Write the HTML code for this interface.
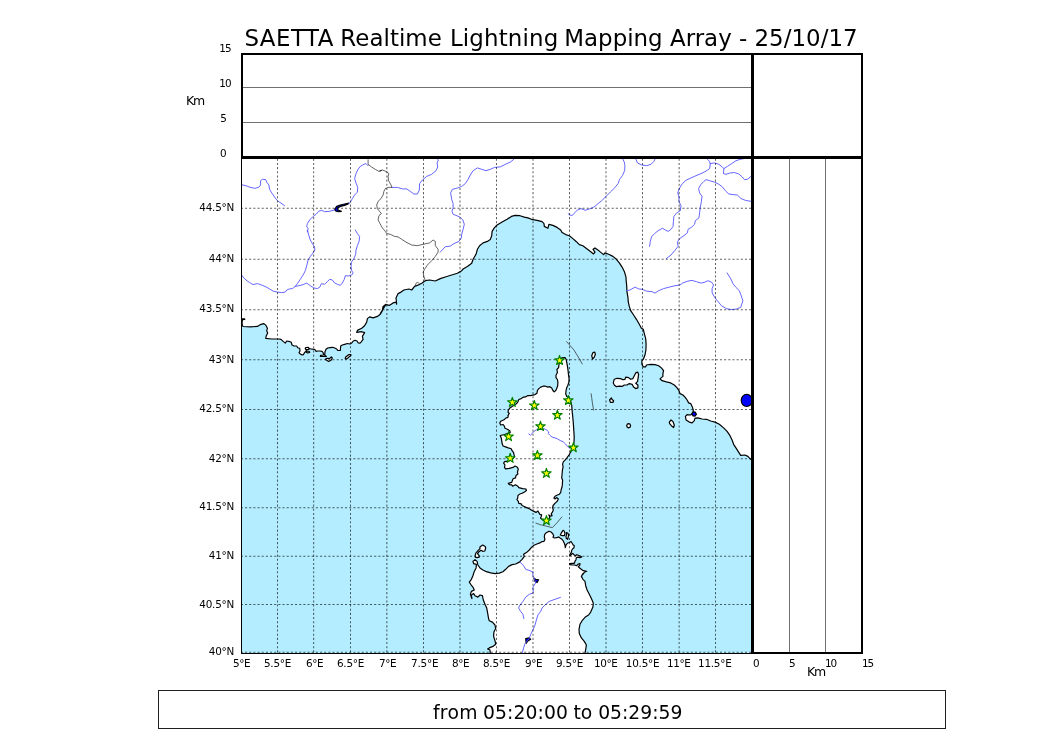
<!DOCTYPE html>
<html lang="en">
<head>
<meta charset="utf-8">
<title>SAETTA Realtime Lightning Mapping Array</title>
<style>
html,body{margin:0;padding:0;background:#fff;}
body{width:1050px;height:750px;overflow:hidden;position:relative;font-family:"DejaVu Sans","Liberation Sans",sans-serif;}
svg{position:absolute;left:0;top:0;display:block;}
svg text{font-family:"DejaVu Sans","Liberation Sans",sans-serif;fill:#000;}
.tk{font-size:10.42px;letter-spacing:-0.4px;}
.ttl{font-size:22.92px;}
.tm{font-size:18.75px;}
.riv{fill:none;stroke:#5555ff;stroke-width:0.9;stroke-linejoin:round;stroke-linecap:round;}
.bd{fill:none;stroke:#222;stroke-width:0.7;stroke-linejoin:round;}
.cst{fill:#fff;stroke:#000;stroke-width:1.2;stroke-linejoin:round;}
.lake{fill:#0000ff;stroke:#000;stroke-width:1.15;stroke-linejoin:round;}
.gr{stroke:rgba(0,0,0,0.62);stroke-width:1.04;stroke-dasharray:2.083 2.083;fill:none;}
.st{fill:#ffff00;stroke:#008000;stroke-width:1.15;stroke-linejoin:round;}
</style>
</head>
<body>
<svg width="1050" height="750" viewBox="0 0 1050 750">
<rect x="0" y="0" width="1050" height="750" fill="#fff"/>
<text class="ttl" y="46" xml:space="preserve"><tspan x="244.4" style="letter-spacing:0.5px">SAETTA </tspan><tspan x="340.3" style="letter-spacing:0.05px">Realtime </tspan><tspan x="449.9" style="letter-spacing:0.15px">Lightning </tspan><tspan x="564.3">Mapping </tspan><tspan x="670.0">Array </tspan><tspan x="739.1">- </tspan><tspan x="754.4" style="letter-spacing:0.05px">25/10/17</tspan></text>
<defs><clipPath id="mc"><rect x="241.0" y="156.5" width="511.0" height="497.0"/></clipPath></defs>
<g clip-path="url(#mc)">
<rect x="241.0" y="156.5" width="511.0" height="497.0" fill="#b3edff"/>
<path class="cst" d="M235,150L235,319L241.3,318.9L244.7,318.9L244.7,319.5L242.4,319.6L242.1,322.7L242.3,325.3L243,326.5L250.3,326.9L257.4,326.4L261,324.3L263.9,323.6L266,325.4L267.4,328.3L266.7,330.7L267.7,332.9L266.3,335.7L265.7,338.3L271.7,339L278.9,339L281,339.3L283.1,341.4L285.3,343.1L286.7,341L290,341.7L291.3,342.3L292,345L294,346L296.7,346L297.7,347.7L299.7,348.3L300,351L299,352.7L300.3,354L302,354.9L303.3,354.7L304.3,353L305.7,351.3L306.7,350L305.7,349L306.7,347.7L308.3,347.5L309,348.7L311.3,349L314,349.3L315.3,350L316,351.3L318,351L320,351L322,351.3L323,352.3L323.7,355L320.7,355.3L320.3,356.3L323.3,356.5L326.3,356.5L324.7,355L325,351.7L326,349.3L327.7,348L330,347.7L332.7,347.3L334.7,348L336.7,349L337.7,350.3L340.3,350.5L340.5,348.3L340.7,346L342.3,345L344.7,344.3L347.3,343.5L350,344L352,342.7L353.3,341L355,340.3L357,341L358.3,343L360,343.1L361,342.1L363.1,339.3L362.4,336.4L364.6,332.6L361.7,331.7L356.7,332.4L357.4,330.4L361.7,328.3L364.6,325.7L366.7,322.1L367.4,318.6L369.6,316.9L373.1,317.9L377.4,316.4L380.3,314.3L382.4,310.7L383.1,306.4L386,304.3L380.3,313.6L382.4,310L383.1,306.4L386,304.7L389.6,305.3L393.1,302.9L396,302.1L396.7,304.3L396,297.9L398.1,293.6L401,292.1L403.9,290L408.9,289L411.7,290L414.6,286.4L418.9,284.7L421.7,283.3L425.3,280.7L429.6,280L435.3,281L440.3,278.6L446,276.7L451.7,275L457.4,273.3L461.7,270.7L463.1,269L467.4,266.4L471.7,263.3L473.1,259.3L476,254.3L477.4,249.3L479.6,245.7L483.1,242.9L487.4,241.4L490.3,239.6L491.7,235.7L492.1,231.4L494.3,227.9L497.1,225L502.1,222.1L507.1,219.3L511.4,216.4L515,215.4L520,215.7L524.3,217.1L527.9,217.9L531.4,219.3L537.1,220.3L542.1,221.7L544,223.6L544.3,226.4L547.9,228.3L548.9,224.3L552.9,225.4L557.1,227.4L560.7,230L562.1,232.6L565.7,234.6L569.3,235.7L572.9,238.6L576.4,241.7L579.3,244.6L582.9,245.7L587.1,248.9L590.7,251.7L593.6,253.9L595,252.1L593.1,249.3L595,247.9L599.3,251.1L603.6,254.6L605,252.9L608.6,254.3L612.9,256.4L616.4,259.3L619.3,262.9L622.1,267.1L624.3,271.4L626,277.1L626.1,280L626.7,285.7L626.9,291.4L627.9,297.1L628.3,302.1L629.3,306.4L630.7,310.7L633.6,315L636.4,319.3L639.3,324.3L641.4,328.3L643.3,329.3L644.3,333.6L645.7,338.6L646.1,344.3L645.9,350L645,355L643.3,359.3L641.9,360.7L641.9,364.3L643.3,366.9L645.7,366.9L646.4,365L650.7,364.3L655,364.6L658.6,365.7L661.4,367.9L663.6,370.7L662.9,373.6L662.9,376.4L660,378.9L662.1,380.7L666.4,381.9L670.7,382.9L674.3,385L677.1,387.9L679,390.7L680,393.6L682.9,395L685,397.1L687.1,400L688.6,402.9L690.7,403.6L692.1,406.4L693.3,410L692.9,412.9L690.7,415L687.1,414.7L685.4,416.4L686.1,420L689.3,422.1L692.1,422.9L694.3,420.7L695,418.1L697.9,417.9L702.1,419L706.4,419.3L710.7,421L715,422.1L719.3,424.3L723.6,427.9L727.1,431.4L730,435.7L732.1,440L733.6,444.3L736.4,448.6L738.6,452.1L740.7,455.3L745,455L747.9,456.4L750.7,459.3L755,462.1L760,462L760,150Z"/>
<path class="cst" d="M561.7,357.8L565,357.6L566.2,359.5L566.9,363.3L567.6,367.1L568.1,371L568.5,374.8L569.1,378.6L568.8,382.4L567.9,385.2L566.6,388.1L566,391L565.7,393.8L566.6,396.2L568.3,397.6L570.7,401.4L571.7,405.2L572,409L572.3,412.9L572.6,415L572.9,418.8L573.3,422.6L573.6,427.4L573.9,432.1L574.2,436.9L574,441.7L573.6,445.5L571.2,451.2L569.3,454.5L566.9,457.9L565,460.2L563.1,462.1L562.6,464.5L563.1,466.9L562.4,470.2L562.1,474L561.7,477.9L562.6,480L562.4,483.8L562.1,486.7L561.2,489.5L560.7,492.4L559.3,494.3L556.9,495.2L555,496.2L553.9,498.1L555,499L556.9,497.6L558.3,499L557.4,501L556,502.4L554.5,503.8L553.1,505.5L552.6,507.6L553.3,510L552.6,511.9L551.2,513.8L552.1,515.7L550.2,516.2L548.8,514.8L549.8,517.1L548.3,520L546.4,521.9L543.6,520.5L540.5,518.1L541.2,516.7L541.7,514.8L539.8,514.3L539,512.9L537.9,511L536,512.4L534,511.4L531.7,510.3L529.8,509L527.9,508.1L525.5,507.1L523.6,506.2L522.1,505.5L521.2,503.8L518.8,503.3L518.3,501.4L516.9,499.5L517.7,498.1L517.9,495.7L519.3,494.3L522.1,493.3L524.5,491.9L526.4,490.5L526,489L522.6,488.6L518.8,487.6L517.9,486.2L515.5,484.8L512.6,486.2L511.7,484.8L509.3,484.6L508.3,483.3L511.7,482.4L512.6,480L513.1,478.8L515.5,477.9L516,475.5L517.9,474L517.4,472.1L518.3,469.3L517.4,467.2L515,466L513.1,467.4L509.3,468.3L505.5,468.8L504.5,467.4L505,465L503.6,463.1L504.5,461.7L508.3,461.2L511.7,459.8L514.5,456.9L514,454.5L513.6,452.6L512.1,450.7L511.2,448.8L508.3,447.9L505.5,446.9L503.1,446L502.1,443.6L501.7,440.7L501.2,437.9L500.2,435.5L504.5,434.5L510.2,432.6L509.8,430.7L507.4,429.3L505,428.3L504.5,426.4L503.1,424.5L500.7,425L499.8,423.1L500.7,421.2L504,419.8L505.5,418.3L507.9,417.4L508.3,415.5L507.9,415.7L509.3,413.3L508.1,412.4L508.3,410L509.8,408.1L511.7,406.7L514,405.2L516.4,403.8L517.9,401.9L518.8,399.5L521.2,398.6L523.6,397.1L525.5,396.9L527.9,395.5L530.2,395.7L532.6,395.2L535,394.6L536.9,393.3L537.4,390.5L538.8,388.6L540.7,387.1L543.1,386.2L545.5,386.2L547.9,387.1L549.8,386.7L551.7,388.1L552.9,390.5L554.2,391.9L555.8,390.5L556.9,388.1L557.7,385.7L557.9,382.4L557.4,379.5L556,377.6L556,375.2L557.4,372.4L556.9,369.5L558.6,367.6L559,364.3L561.7,358.1Z"/>
<path class="cst" d="M490.4,655L490,650L487.6,649L489.3,647.9L492.9,646.4L495.7,644.3L495,640.7L493.6,636.4L493.9,632.1L495.7,628.6L495,625L492.4,622.1L489.3,620.7L488.6,618.6L487.6,612.9L486.7,607.9L485,604.3L483.3,600L482.4,595.7L480,595L477.9,597.1L475,595.7L473.6,593.6L471.4,595L471.9,598.6L470.4,594.3L471.4,591.4L474.3,590L472.9,587.1L470.7,584.3L469.3,582.1L471.4,579.3L472.9,575.7L474.3,571.4L476.1,567.9L476.4,564.3L473.6,563.6L472.9,561.4L475,559.7L477.1,561.4L477.9,565L480,567.9L482.9,570L486.4,571.7L490.7,572.9L495,573.6L499.3,573.1L502.9,571.7L505.7,569.3L508.6,566.4L512.1,564.6L515.7,564L519.3,562.1L522.1,559.3L524.3,556.4L523.6,554.3L526.4,552.6L529.3,550L531.7,547.1L534,545.2L536.9,544L539.8,542.9L541.7,541.7L544,541.3L545,539.3L544.3,537L544.7,534.3L546.3,532.7L549,531.3L551,532L552.7,533.7L553.7,535.7L553,537.3L554.3,538L556.7,537.7L558.7,536.9L560,538L562,539.3L563.3,541L564.3,543.3L565,545.3L565.3,547.7L566,545L567.3,543.3L569.3,542.5L571,541.5L572,543L573,544.7L574.3,545.7L574,547.7L572.7,548.7L571.7,550.3L571.3,552.3L570,554.3L569.7,555.7L571.3,554.7L572.7,553.3L574,554.7L575.3,555.7L576.7,554.7L578.3,555.3L580,556L581.7,556.9L580,557.7L578,557.1L576.3,557.7L576,559.7L575,561.3L574.3,563.3L572,563.3L569.7,563.7L569.7,564.7L572,565L574.7,565L576.7,565.7L578.3,564L580,563.7L579.7,565.3L578.3,566.7L579.7,568L581.3,569.3L583.3,570.7L586.7,571.3L584.3,572.3L583.3,574L582.9,573.6L581.4,576.4L582.9,579.3L585,581.4L585.7,585.7L587.1,590L589.3,594.3L591.4,598.6L593.3,602.9L593.3,602.9L592.9,607.1L590.7,612.1L588.6,615L585.7,616.7L582.1,620.7L580,624.3L579,629.3L579.3,633.6L581.4,637.9L584.3,641.4L586.4,645L585.7,649.3L584.7,655Z"/>
<path class="cst" d="M613.6,381.4L614.3,379.3L617.1,378.3L620.7,378.6L622.9,379.7L625,379.3L625.7,377.1L628.6,377.6L630.7,379.3L632.9,378.6L634.3,375.7L635.7,372.9L637.6,372.1L638.6,374.3L638.1,377.9L637.6,381.4L635.7,383.3L637.9,385L637.9,387.9L635.7,388.6L633.6,387.1L632.1,384.3L629.3,383.6L627.1,385L624.3,385L622.1,386.4L619.3,386.1L616.4,386.7L614.3,385L613.3,382.9Z"/>
<path class="cst" d="M609.6,400L611.4,397.9L612.1,399.6L613.6,400.7L612.9,402.4L610.4,402.4Z"/>
<path class="cst" d="M626.7,425.7L627.3,424.1L628.6,423.6L630,424.1L630.6,425.7L630,427.3L628.6,427.9L627.3,427.3Z"/>
<path class="cst" d="M669.3,422.1L671,420L672.9,421.4L674.3,425L673.6,427.6L671.4,425.7L669.6,423.6Z"/>
<path class="cst" d="M591.7,355.7L592.9,352.6L594.7,352.1L595.4,354.3L594.3,357.1L592.6,359Z"/>
<path class="cst" d="M560.3,535L561.7,532.3L563,530.3L564.3,531.3L565,533.7L564.3,535.7L562.3,535.7Z"/>
<path class="cst" d="M566.3,532.7L567.7,533L568.7,534.7L568.3,536.7L567.7,539.3L566.3,538.3L566,536.3L566.7,534.7Z"/>
<path class="cst" d="M482.7,545L485.2,546.5L485.7,548L484.8,551L482.7,551.3L481,550.2L479,551.7L477.5,553.7L479.3,555.8L479.2,557.1L477,557.7L475.3,557.1L475.2,555.3L476,552.9L478,550.7L480,548.7L479.9,546.9Z"/>
<path class="cst" d="M325.3,359.3L327,358.3L329.3,358.7L331.3,357L332.3,358L331.3,360L328.7,361.5L326.7,360.3Z"/>
<path class="cst" d="M345.2,358.7L345.7,357L347.3,355.7L349,354.5L350.8,354.5L351,355.3L349.3,356.7L348,358L346.3,359.1Z"/>
<path class="cst" d="M305.2,348.3L306,347.5L308.3,347.4L309,348.3L308.7,349.3L306,349.5Z"/>
<path class="cst" d="M306.3,351.5L307.3,351L309.3,351.5L309.7,352.5L307.7,352.9L306.7,352.5Z"/>
<path class="lake" d="M691.9,413.3L693.3,411.9L695.3,412.1L696.4,414.3L695,416.1L692.9,415.9Z"/>
<path class="lake" d="M752.2,400.4L751.8,402.7L750.6,404.7L748.8,406L746.7,406.5L744.6,406L742.8,404.7L741.6,402.7L741.2,400.4L741.6,398.1L742.8,396.1L744.6,394.8L746.7,394.3L748.8,394.8L750.6,396.1L751.8,398.1Z"/>
<path class="lake" d="M534,578.3L535.7,579.3L538.6,579.7L537.1,582.6L535,581.4Z"/>
<path class="lake" d="M525.7,638.6L529.3,637.9L530.7,639.3L527.9,641L526.1,643.3Z"/>
<path class="lake" d="M348.9,203.1L344.6,204L340.3,205L336.7,206.4L334.6,209.3L336,211.1L338.9,211.7L341.4,211.4L338.1,210L337.4,208.3L340.3,206.4L344.6,205.4L348.1,204Z"/>
<path class="riv" d="M241.7,184.7L246.7,186L251,187.6L255.3,188.3L258.9,187.1L260.6,185L260.6,180.7L262.4,179.3L265.7,179.6L266.7,182.1L268.9,185L269.6,189.3L271.7,192.9L274.6,197.1L277.4,200.7L281,203.1L284.6,205.7"/>
<path class="riv" d="M368.1,165.7L366,163.6L363.9,164.3L360.3,166.4L358.1,169.3L356,173.6L354.6,178.6L356,182.9L357.7,187.4L357.4,192.1L354.6,195L352.4,198.6L350.3,202.1L348.9,203.6"/>
<path class="riv" d="M334.6,210L328.9,211.4L324.6,211.7L321.7,210.3L318.9,211.1L316,214.3L312.4,217.1L309.6,220L307.4,223.6L306.7,226.4L308.1,228.6L307.4,232.1L307.4,230L308.9,235.7L310.3,240L312.4,243.6L314.6,247.1L314.9,250L313.1,252.9L310.3,256.4L308.1,260L306.7,265.7L305.3,270.7L303.1,275L300.3,279.3L297.4,283.6L295.3,286.4L292.4,288.6L289.6,288.9L286.7,290L285.3,292.1L281.7,292.6L277.4,292.1L273.1,291.1L269.6,288.9L266,286.9L261.7,285L257.4,283.6L253.1,284.6L249.6,282.6L246,280L243.1,277.1L241.7,275"/>
<path class="riv" d="M355.3,230L357.4,233.6L359.6,236.4L359.1,241.4L357.4,245.7L356,250L355.7,254.3L353.9,258.6L351.4,262.1L351,266.4L351.7,270.7L353.1,272.9L351.7,275L348.1,276L345.3,275.7L344.3,279.3L342.4,282.9L340.3,285.4L337.4,284.3L334.6,282.9L332.4,280L329.6,279.3L327.4,281.7L324.6,284.3L321.4,283.6L320,286.9L317.4,288.6L313.9,287.9L310.3,285.7L306.7,283.1L303.1,284.6L298.9,285.7L295.3,286.4"/>
<path class="riv" d="M392,187.4L397.4,187.4L402.4,188.9L406.7,188.9L410.3,191.4L413.9,194L417.4,194L419.3,190L419.6,183.6L422.4,180L426.7,176.4L431.7,174.3L436,170.7L437.7,167.1L437.1,162.9L438.4,160L437.4,158.9"/>
<path class="riv" d="M440.3,252.1L445.3,246.7L450.3,246.1L453.9,243.6L458.9,241.4L461.4,237.9L461.7,234.3L463.1,229.3L464.3,224.3L462.9,220L459.6,216.9L456,215.4L453.1,214.3L452,211.4L453.1,207.9L453.1,203.6L451.7,199.3L450.6,192.9L452.4,189.3L456.7,188.3L461.7,186.4L465.3,183.6L468.1,179.3L470.3,175L473.1,170.7L477.4,167.9L481.7,169.3L486,170.7L490.3,169.3L494.6,167.4L500.3,166.9L506,164L510.3,162.1L513.9,159.3"/>
<path class="riv" d="M568.1,213.6L569.6,215L572.4,215.4L574.6,212.9L577.4,210L581,208.6L585.3,210.3L589.6,208.9L593.9,207.1L598.1,203.6L601.7,200.7L606,196.4L610.3,192.1L614.6,187.9L618.1,183.6L619.6,179.3L622.4,175.7L624.6,170.7L624.9,165.7L624.3,162.1L622.9,159.3"/>
<path class="riv" d="M636,159.3L637.4,162.9L641.7,165L646.7,165.7L651,164.3L653.9,161.4L654.9,159.3"/>
<path class="riv" d="M649.6,246.4L650.3,241.4L651.7,236.4L654.6,233.6L658.1,230.7L662.4,228.3L665.3,230L668.1,231.4L671,229.3L673.1,226.4L673.4,221.4L673.9,216.4L676.7,212.9L680.3,210.7L681,205.7L678.9,201.4L679.1,197.1L677.7,192.9L679.6,187.9L682.4,183.6L686,180.3L691,177.9L696,175.7L701,173.6L706,171.1L709.6,168.6L710.3,164.3L709.6,161.4L707.4,159.3"/>
<path class="riv" d="M666.3,258.6L671,255L674.6,250.7L678.1,246.4L677.4,242.1L679.6,238.6L683.9,235.7L687.4,232.9L688.1,229.3L691.7,227.1L694.6,224.3L695.3,220.7L698.9,217.9L699.6,212.9L700.3,207.1L701.4,201.4L702,196.4L699.6,192.9L698.6,188.6L701,184.3L703.9,181.4L706,179.6L709.6,180.7L714.6,182.1L718.9,184.3L722.4,186.9L725.3,190.7L728.9,194L733.1,194.6L737.4,195L741,198.6L745.3,200.3L751,201.4L754.6,202.1"/>
<path class="riv" d="M710.3,163.6L714.6,162.9L718.9,164.3L722.4,167.1L723.9,168.6L727.4,166.4L731.7,163.6L736,160.7L740.3,159.3L747.4,157.9"/>
<path class="riv" d="M723.9,168.6L723.4,173.6L726,174.3L730.3,172.9L734.6,172.6L738.9,174L742.4,177.1L744.6,179.7L747.4,179.3L751,176.4L754.6,174.3"/>
<path class="riv" d="M626.4,290.7L630,290L635,287.1L638.6,288.9L642.1,289.3L646.4,291.1L652.1,291.7L655,293.1L658.6,290.7L663.6,288.6L669.3,287.1L675,285.7L680,285L682.9,282.9L687.9,281.1L692.1,280.4L696.4,281.7L701.4,283.1L705,282.1L707.9,280.7L711.4,282.1L713.6,285L712.1,288.6L712.1,292.9L715,297.9L717.9,301.4L721.4,305.7L726.4,308.6L731.4,309.6L736.4,309L740.7,307.4L742.9,300.7L740.7,294.3L739.3,290.7L735.7,287.1L732.9,283.6L731.4,280L730,277.6L727.1,272.9"/>
<path class="riv" d="M528.8,434L530.4,435.2L532.1,433.6L533.6,431.7L536,430L538.8,429.1L544.5,428.8L546.9,430.2L548.8,432L548.3,433.6L550.2,435.5L552.1,437.1L555,437.9L557.4,438.8L560.2,440.5L563.1,441.7L565.5,444L567.4,446.4L570.2,448.3"/>
<path class="riv" d="M520,562.1L523.6,565.7L525.7,569.3L530,570.7L532.9,572.1L532.9,575.7L534.3,578.6L535.7,582.9L532.9,587.1L533.3,592.9L529.3,594.3L525.7,597.1L522.9,601.4L520,605L518.6,607.9L520.7,611.4L522.9,614.3L523.9,618.6"/>
<path class="riv" d="M560.4,597.4L555,599.3L549.3,601.4L545.7,604.3L542.1,607.9L540.7,611.4L537.9,615L536.4,620L536.4,620L535,625L532.9,630L530.7,634.3L529.3,638.6L525,643.6L523.6,647.9L522.4,652.9"/>
<path class="bd" d="M368.1,159.3L368.1,164.3L371.7,167.1L375.3,169.3L378.9,171.4L381.7,170.3L379.6,171.1L382.4,170L386,171.4L388.9,173.6L388.1,176.4L388.6,180.7L391,185L392,187.4L388.1,187.4L385.3,188.6L383.9,191.4L383.1,195L381,198.6L378.1,201.4L376.7,205L377.4,208.6L379.6,211.4L381.4,213.6L378.9,215.7L378.1,220L380,223.6L382.4,227.9L385.3,231.4L386.7,233.6L390.3,234.3L394.6,236.4L398.1,236.9L401.7,239.3L406,242.1L411.7,245L417.4,245.7L423.1,244.3L429.6,242.9L433.1,240L435.3,241.4L435.3,245.7L438.1,249.3L438.1,252.1L435.3,256.4L431.7,260.7L427.4,265L424.6,269.3L423.1,272.1L423.9,276.4L425.3,280.7"/>
<path class="bd" d="M415.3,285.7L416,283.3L417.7,282.1L419.1,283.6L418.6,285.3"/>
<path class="bd" d="M566.4,341.4L574,350L576.9,354.8L579.8,359.5L582.4,364.3"/>
<path class="bd" d="M591,393.3L591.7,397.6L592.3,402.4L593.1,407.1L593.6,410.5"/>
<path class="bd" d="M535.5,523L540.7,524.8L546.4,526.2L552.4,527.6L556.9,522.9L562.1,516.7"/>
<line class="gr" x1="277.50" y1="653.5" x2="277.50" y2="156.5" stroke-dashoffset="-1.05"/>
<line class="gr" x1="313.65" y1="653.5" x2="313.65" y2="156.5" stroke-dashoffset="-1.05"/>
<line class="gr" x1="350.50" y1="653.5" x2="350.50" y2="156.5" stroke-dashoffset="-1.05"/>
<line class="gr" x1="386.85" y1="653.5" x2="386.85" y2="156.5" stroke-dashoffset="-1.05"/>
<line class="gr" x1="423.50" y1="653.5" x2="423.50" y2="156.5" stroke-dashoffset="-1.05"/>
<line class="gr" x1="460.00" y1="653.5" x2="460.00" y2="156.5" stroke-dashoffset="-1.05"/>
<line class="gr" x1="496.50" y1="653.5" x2="496.50" y2="156.5" stroke-dashoffset="-1.05"/>
<line class="gr" x1="533.00" y1="653.5" x2="533.00" y2="156.5" stroke-dashoffset="-1.05"/>
<line class="gr" x1="569.50" y1="653.5" x2="569.50" y2="156.5" stroke-dashoffset="-1.05"/>
<line class="gr" x1="606.00" y1="653.5" x2="606.00" y2="156.5" stroke-dashoffset="-1.05"/>
<line class="gr" x1="642.50" y1="653.5" x2="642.50" y2="156.5" stroke-dashoffset="-1.05"/>
<line class="gr" x1="679.15" y1="653.5" x2="679.15" y2="156.5" stroke-dashoffset="-1.05"/>
<line class="gr" x1="715.50" y1="653.5" x2="715.50" y2="156.5" stroke-dashoffset="-1.05"/>
<line class="gr" x1="241.0" y1="652.34" x2="752.0" y2="652.34" stroke-dashoffset="0.15"/>
<line class="gr" x1="241.0" y1="604.51" x2="752.0" y2="604.51" stroke-dashoffset="0.15"/>
<line class="gr" x1="241.0" y1="556.33" x2="752.0" y2="556.33" stroke-dashoffset="0.15"/>
<line class="gr" x1="241.0" y1="507.78" x2="752.0" y2="507.78" stroke-dashoffset="0.15"/>
<line class="gr" x1="241.0" y1="458.85" x2="752.0" y2="458.85" stroke-dashoffset="0.15"/>
<line class="gr" x1="241.0" y1="409.53" x2="752.0" y2="409.53" stroke-dashoffset="0.15"/>
<line class="gr" x1="241.0" y1="359.82" x2="752.0" y2="359.82" stroke-dashoffset="0.15"/>
<line class="gr" x1="241.0" y1="309.71" x2="752.0" y2="309.71" stroke-dashoffset="0.15"/>
<line class="gr" x1="241.0" y1="259.17" x2="752.0" y2="259.17" stroke-dashoffset="0.15"/>
<line class="gr" x1="241.0" y1="208.21" x2="752.0" y2="208.21" stroke-dashoffset="0.15"/>
</g>
<polygon class="st" points="559.57,355.45 560.72,358.87 564.33,358.90 561.42,361.05 562.51,364.50 559.57,362.40 556.63,364.50 557.72,361.05 554.81,358.90 558.42,358.87"/>
<polygon class="st" points="512.33,397.35 513.48,400.77 517.09,400.80 514.18,402.95 515.27,406.40 512.33,404.30 509.39,406.40 510.48,402.95 507.57,400.80 511.18,400.77"/>
<polygon class="st" points="534.33,400.50 535.48,403.92 539.09,403.95 536.18,406.10 537.27,409.55 534.33,407.45 531.39,409.55 532.48,406.10 529.57,403.95 533.18,403.92"/>
<polygon class="st" points="568.33,395.45 569.48,398.87 573.09,398.90 570.18,401.05 571.27,404.50 568.33,402.40 565.39,404.50 566.48,401.05 563.57,398.90 567.18,398.87"/>
<polygon class="st" points="557.38,410.20 558.53,413.62 562.14,413.65 559.23,415.80 560.32,419.25 557.38,417.15 554.44,419.25 555.53,415.80 552.62,413.65 556.23,413.62"/>
<polygon class="st" points="540.50,421.40 541.65,424.82 545.26,424.85 542.35,427.00 543.44,430.45 540.50,428.35 537.56,430.45 538.65,427.00 535.74,424.85 539.35,424.82"/>
<polygon class="st" points="508.60,431.60 509.75,435.02 513.36,435.05 510.45,437.20 511.54,440.65 508.60,438.55 505.66,440.65 506.75,437.20 503.84,435.05 507.45,435.02"/>
<polygon class="st" points="573.40,442.65 574.55,446.07 578.16,446.10 575.25,448.25 576.34,451.70 573.40,449.60 570.46,451.70 571.55,448.25 568.64,446.10 572.25,446.07"/>
<polygon class="st" points="537.40,450.45 538.55,453.87 542.16,453.90 539.25,456.05 540.34,459.50 537.40,457.40 534.46,459.50 535.55,456.05 532.64,453.90 536.25,453.87"/>
<polygon class="st" points="510.20,453.30 511.35,456.72 514.96,456.75 512.05,458.90 513.14,462.35 510.20,460.25 507.26,462.35 508.35,458.90 505.44,456.75 509.05,456.72"/>
<polygon class="st" points="546.40,468.35 547.55,471.77 551.16,471.80 548.25,473.95 549.34,477.40 546.40,475.30 543.46,477.40 544.55,473.95 541.64,471.80 545.25,471.77"/>
<polygon class="st" points="546.43,515.64 547.58,519.06 551.19,519.09 548.28,521.24 549.37,524.69 546.43,522.59 543.49,524.69 544.58,521.24 541.67,519.09 545.28,519.06"/>
<rect x="243" y="87" width="508" height="1" fill="#707070"/>
<rect x="243" y="122" width="508" height="1" fill="#707070"/>
<rect x="789" y="159" width="1" height="493" fill="#707070"/>
<rect x="825" y="159" width="1" height="493" fill="#707070"/>

<rect x="158.5" y="690.5" width="787" height="38" fill="none" stroke="#000" stroke-opacity="0.88" stroke-width="1"/>
<g fill="#000">
<rect x="241" y="53" width="622" height="2"/>
<rect x="241" y="53" width="2" height="106"/>
<rect x="861" y="53" width="2" height="601"/>
<rect x="241" y="156" width="622" height="3"/>
<rect x="751" y="53" width="3" height="601"/>
<rect x="241" y="159" width="1" height="495"/>
<rect x="241" y="653" width="511" height="1"/>
<rect x="751" y="652" width="112" height="2"/>
</g>

<text class="tk" x="219.3" y="52" text-anchor="start" style="letter-spacing:-1px">15</text>
<text class="tk" x="219.3" y="87" text-anchor="start" style="letter-spacing:-1px">10</text>
<text class="tk" x="220.3" y="122" text-anchor="start">5</text>
<text class="tk" x="220.1" y="157" text-anchor="start">0</text>
<text class="tk" x="186" y="104.5" text-anchor="start" style="font-size:12.5px;letter-spacing:-1.2px">Km</text>
<text class="tk" x="234.2" y="211" text-anchor="end" style="letter-spacing:-0.2px">44.5°N</text>
<text class="tk" x="234.2" y="262" text-anchor="end" style="letter-spacing:-0.2px">44°N</text>
<text class="tk" x="234.2" y="312" text-anchor="end" style="letter-spacing:-0.2px">43.5°N</text>
<text class="tk" x="234.2" y="363" text-anchor="end" style="letter-spacing:-0.2px">43°N</text>
<text class="tk" x="234.2" y="412" text-anchor="end" style="letter-spacing:-0.2px">42.5°N</text>
<text class="tk" x="234.2" y="462" text-anchor="end" style="letter-spacing:-0.2px">42°N</text>
<text class="tk" x="234.2" y="510" text-anchor="end" style="letter-spacing:-0.2px">41.5°N</text>
<text class="tk" x="234.2" y="559" text-anchor="end" style="letter-spacing:-0.2px">41°N</text>
<text class="tk" x="234.2" y="608" text-anchor="end" style="letter-spacing:-0.2px">40.5°N</text>
<text class="tk" x="234.2" y="655" text-anchor="end" style="letter-spacing:-0.2px">40°N</text>
<text class="tk" x="241.7" y="667" text-anchor="middle">5°E</text>
<text class="tk" x="277.6" y="667" text-anchor="middle" style="letter-spacing:-0.2px">5.5°E</text>
<text class="tk" x="314.7" y="667" text-anchor="middle">6°E</text>
<text class="tk" x="350.6" y="667" text-anchor="middle" style="letter-spacing:-0.2px">6.5°E</text>
<text class="tk" x="387.7" y="667" text-anchor="middle">7°E</text>
<text class="tk" x="424.7" y="667" text-anchor="middle" style="letter-spacing:-0.2px">7.5°E</text>
<text class="tk" x="460.7" y="667" text-anchor="middle">8°E</text>
<text class="tk" x="496.6" y="667" text-anchor="middle" style="letter-spacing:-0.2px">8.5°E</text>
<text class="tk" x="533.7" y="667" text-anchor="middle">9°E</text>
<text class="tk" x="569.6" y="667" text-anchor="middle" style="letter-spacing:-0.2px">9.5°E</text>
<text class="tk" x="605.7" y="667" text-anchor="middle">10°E</text>
<text class="tk" x="642.6" y="667" text-anchor="middle" style="letter-spacing:-0.25px">10.5°E</text>
<text class="tk" x="678.7" y="667" text-anchor="middle">11°E</text>
<text class="tk" x="714.8" y="667" text-anchor="middle" style="letter-spacing:-0.25px">11.5°E</text>
<text class="tk" x="753.1" y="667" text-anchor="start">0</text>
<text class="tk" x="789.0" y="667" text-anchor="start">5</text>
<text class="tk" x="825.0" y="667" text-anchor="start" style="letter-spacing:-1px">10</text>
<text class="tk" x="862.0" y="667" text-anchor="start" style="letter-spacing:-1px">15</text>
<text class="tk" x="807" y="676" text-anchor="start" style="font-size:12.5px;letter-spacing:-1.2px">Km</text>
<text class="tm" y="719" xml:space="preserve"><tspan x="432.9" style="letter-spacing:0.3px">from </tspan><tspan x="483.0" style="letter-spacing:0.1px">05:20:00 </tspan><tspan x="573.4">to </tspan><tspan x="598.2">05:29:59</tspan></text>
</svg>
</body>
</html>
